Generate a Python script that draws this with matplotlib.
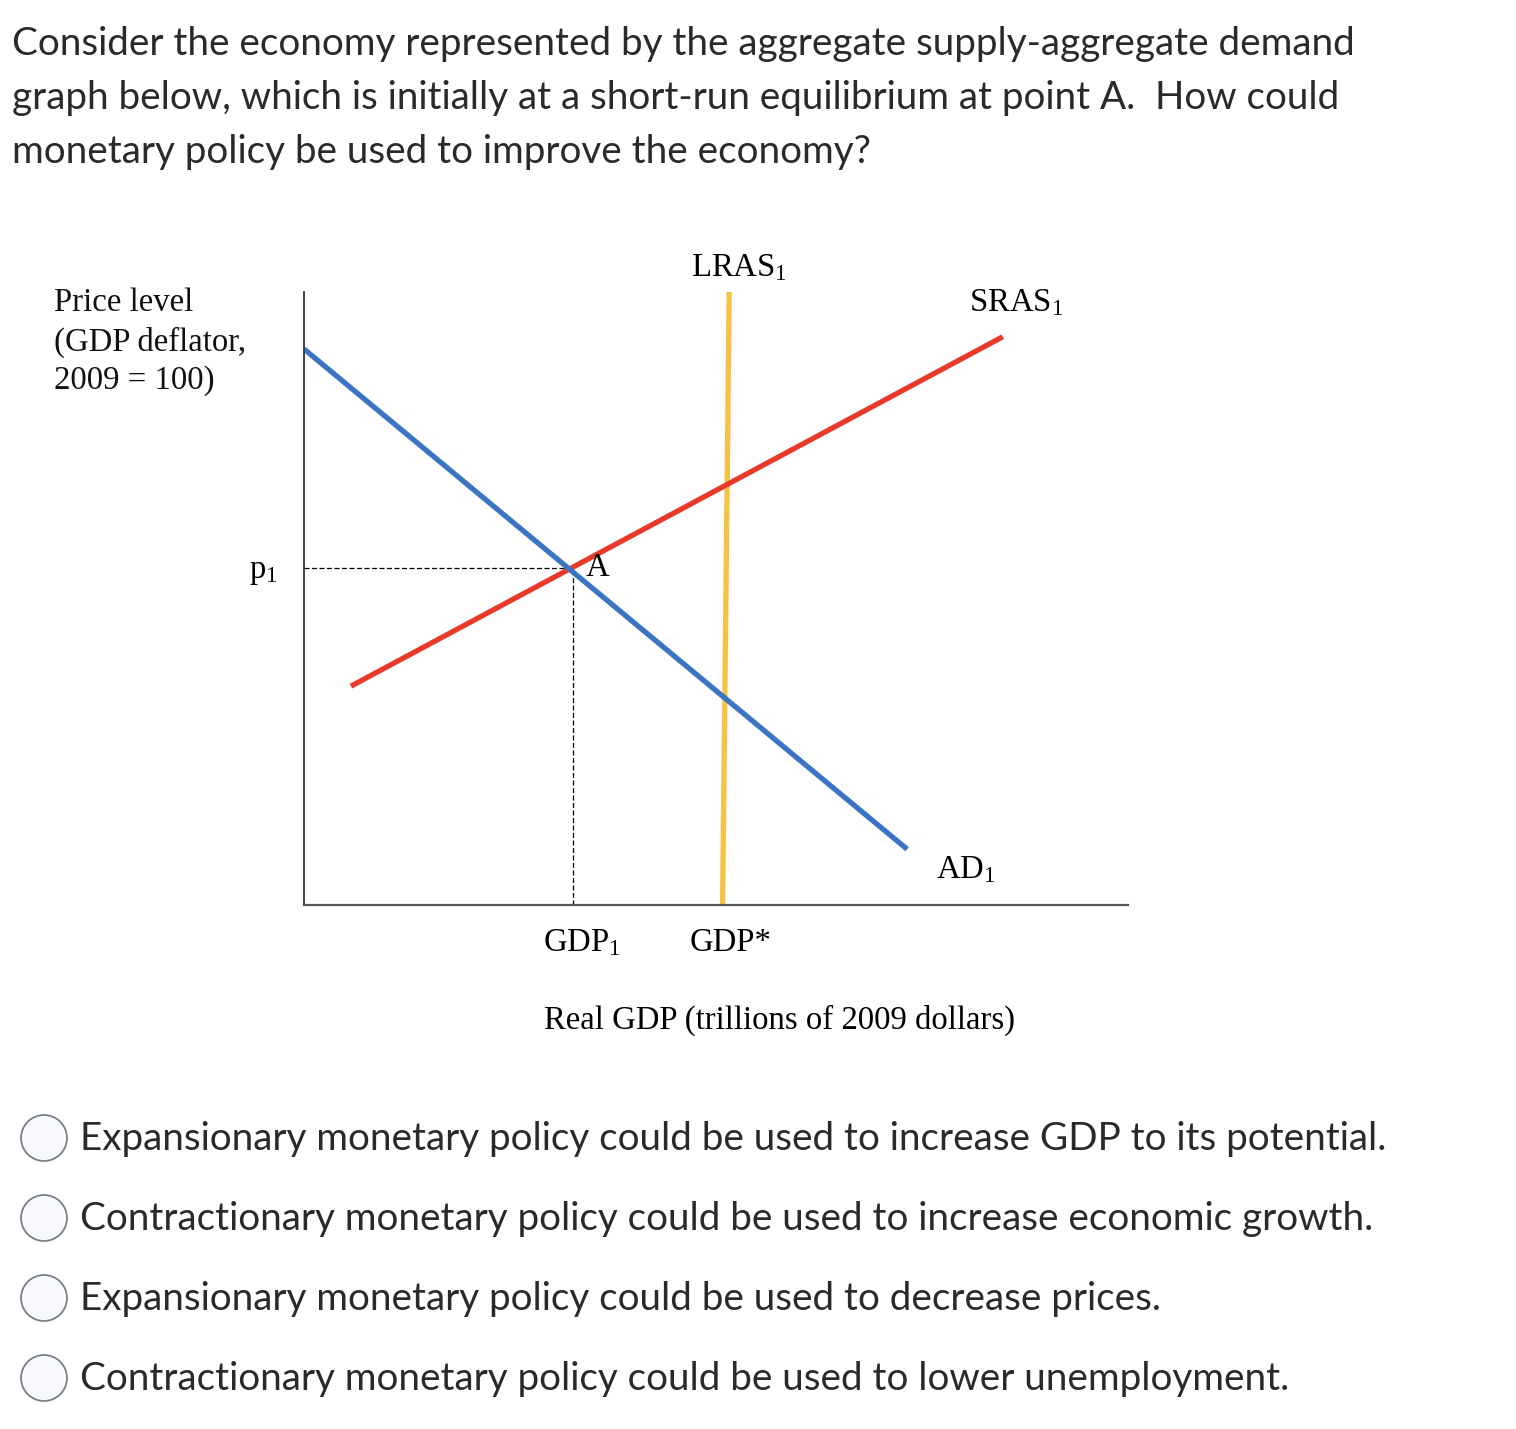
import matplotlib.pyplot as plt
from matplotlib.patches import Ellipse

plt.rcParams['mathtext.fontset'] = 'custom'
plt.rcParams['mathtext.rm'] = 'Liberation Serif'
plt.rcParams['mathtext.it'] = 'Liberation Serif:italic'

W, H = 1516, 1429

# curve end points in chart units (quantity 0-100, price 0-100)
ad_x = [0.0, 73.2]
ad_y = [90.7, 9.1]
sras_x = [5.7, 84.8]
sras_y = [35.7, 92.7]
lras_x = [51.6, 50.8]
lras_y = [100.0, 0.0]
gdp1 = 32.6
p1 = 55.0

question = ["Consider the economy represented by the aggregate supply-aggregate demand",
            "graph below, which is initially at a short-run equilibrium at point A.  How could",
            "monetary policy be used to improve the economy?"]
options = [
    "Expansionary monetary policy could be used to increase GDP to its potential.",
    "Contractionary monetary policy could be used to increase economic growth.",
    "Expansionary monetary policy could be used to decrease prices.",
    "Contractionary monetary policy could be used to lower unemployment.",
]
ylabel_lines = ["Price level", "(GDP deflator,", "2009 = 100)"]


def fx(x):
    return x / W


def fy(y):
    return 1 - y / H


fig = plt.figure(figsize=(W / 100, H / 100), dpi=100)

# question text
for i, line in enumerate(question):
    fig.text(fx(12), fy(55 + 54 * i), line, family='Lato', fontsize=27.8, color='#2a2a2a',
             va='baseline', ha='left')

# chart
ax = fig.add_axes([fx(304), fy(905), 824 / W, 613 / H])
ax.set_xlim(0, 100)
ax.set_ylim(0, 100)
for s in ['top', 'right']:
    ax.spines[s].set_visible(False)
ax.spines['left'].set_color('#333333')
ax.spines['bottom'].set_color('#555555')
ax.spines['left'].set_linewidth(1.3)
ax.spines['bottom'].set_linewidth(1.6)
ax.set_xticks([])
ax.set_yticks([])

ax.plot([0, gdp1], [p1, p1], color='black', lw=0.9, ls=(0, (4, 2)))
ax.plot([gdp1, gdp1], [0, p1], color='black', lw=0.9, ls=(0, (4, 2)))
ax.plot(lras_x, lras_y, color='#f5c242', lw=3.8, solid_capstyle='butt')
ax.plot(sras_x, sras_y, color='#e8392a', lw=3.8, solid_capstyle='butt')
ax.plot(ad_x, ad_y, color='#3a74c2', lw=3.8, solid_capstyle='butt')

serif = 'Liberation Serif'
fs = 23.6
for i, line in enumerate(ylabel_lines):
    fig.text(fx(54), fy(303 + 39 * i), line, family=serif, fontsize=fs,
             va='center', ha='left', color='#111111')
fig.text(fx(263), fy(572), r"p$_1$", family=serif, fontsize=fs, ha='center', va='center')
fig.text(fx(739), fy(268), r"LRAS$_1$", family=serif, fontsize=fs, ha='center', va='center')
fig.text(fx(1016), fy(303), r"SRAS$_1$", family=serif, fontsize=fs, ha='center', va='center')
fig.text(fx(966), fy(870), r"AD$_1$", family=serif, fontsize=fs, ha='center', va='center')
fig.text(fx(597), fy(568), "A", family=serif, fontsize=fs, ha='center', va='center')
fig.text(fx(582), fy(943), r"GDP$_1$", family=serif, fontsize=fs, ha='center', va='center')
fig.text(fx(731), fy(943), "GDP*", family=serif, fontsize=fs, ha='center', va='center')
fig.text(fx(780), fy(1020), "Real GDP (trillions of 2009 dollars)", family=serif,
         fontsize=fs, ha='center', va='center')

# answer options
for i, opt in enumerate(options):
    yc = 1138 + 80 * i
    fig.add_artist(Ellipse((fx(44), fy(yc)), 46 / W, 46 / H, transform=fig.transFigure,
                           facecolor='#f6f8fe', edgecolor='#6f7780', lw=1.2))
    fig.text(fx(80), fy(yc + 1), opt, family='Lato', fontsize=27.85, color='#2a2a2a',
             ha='left', va='center')

fig.savefig('out.png', dpi=100, facecolor='white')
